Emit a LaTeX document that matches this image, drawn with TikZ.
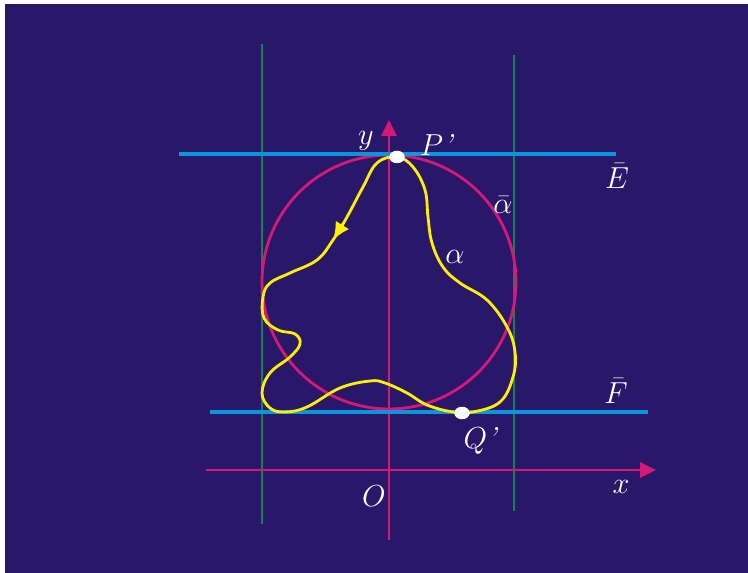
\documentclass[tikz,border=0pt]{standalone}
\usepackage{amsmath}
\usepackage{tikz}
\usetikzlibrary{arrows.meta,shapes.geometric}
\definecolor{bgnavy}{RGB}{41,23,106}
\definecolor{axmag}{RGB}{214,25,121}
\definecolor{lnblue}{RGB}{10,150,220}
\definecolor{lngreen}{RGB}{20,130,80}
\definecolor{crvyel}{RGB}{255,240,0}

\begin{document}
\begin{tikzpicture}[
  x=0.02cm, y=-0.02cm,
  lbl/.style={text=white, font=\LARGE, inner sep=0pt},
  axis/.style={draw=axmag, line width=1.6pt, -{Triangle[length=9pt,width=8.5pt]}},
  tangent/.style={draw=lnblue, line width=2pt},
  vline/.style={draw=lngreen, line width=1.3pt},
  dot/.style={ellipse, fill=white, inner sep=0pt, minimum width=0.31cm, minimum height=0.25cm},
]
  \useasboundingbox (0,0) rectangle (748,573);
  \fill[white] (0,0) rectangle (748,573);
  \fill[bgnavy] (5,4) rectangle (748,573);

  % vertical supports
  \draw[vline] (262,44) -- (262,524);
  \draw[vline] (514,55) -- (514,511);

  % axes
  \draw[axis] (206,470) -- (656,470);
  \draw[axis] (389,540) -- (389,120);

  % circle alpha-bar
  \draw[axmag, line width=1.6pt] (389,282) circle[radius=2.54cm];

  % tangent lines E and F
  \draw[tangent] (179,154) -- (616,154);
  \draw[tangent] (210,412) -- (648,412);

  % curve alpha
  \draw[crvyel, line width=1.6pt] plot[smooth cycle, tension=0.65] coordinates {
    (397,157) (377,163) (363,187) (347,217) (333,240) (317,260) (290,273)
    (270,283) (263,297) (264,318) (278,330) (295,334) (300,344) (290,357)
    (270,373) (262,393) (270,408) (285,412) (307,407) (340,388) (370,381)
    (385,383) (407,393) (427,405) (453,412) (473,412) (500,402) (513,377)
    (515,352) (507,327) (487,300) (460,283) (443,267) (432,243) (428,217)
    (425,190) (413,167)};
  \draw[crvyel, line width=1.6pt, -{Latex[length=10pt,width=9pt]}] (343,224) -- (333,240);

  % points
  \node[dot] (P) at (397,157) {};
  \node[dot] (Q) at (462,413) {};

  % labels
  \node[lbl] (ylab) at (366,141) {$y$};
  \node[lbl] (Plab) at (437,145) {$P$\textit{'}};
  \node[lbl] (Elab) at (617,176) {$\bar{E}$};
  \node[lbl] (ablab) at (503,205) {$\bar{\alpha}$};
  \node[lbl] (alab) at (455,257) {$\alpha$};
  \node[lbl] (Flab) at (616,391) {$\bar{F}$};
  \node[lbl] (Qlab) at (481,441) {$Q$\textit{'}};
  \node[lbl] (Olab) at (374,496) {$O$};
  \node[lbl] (xlab) at (621,487) {$x$};
\end{tikzpicture}
\end{document}
